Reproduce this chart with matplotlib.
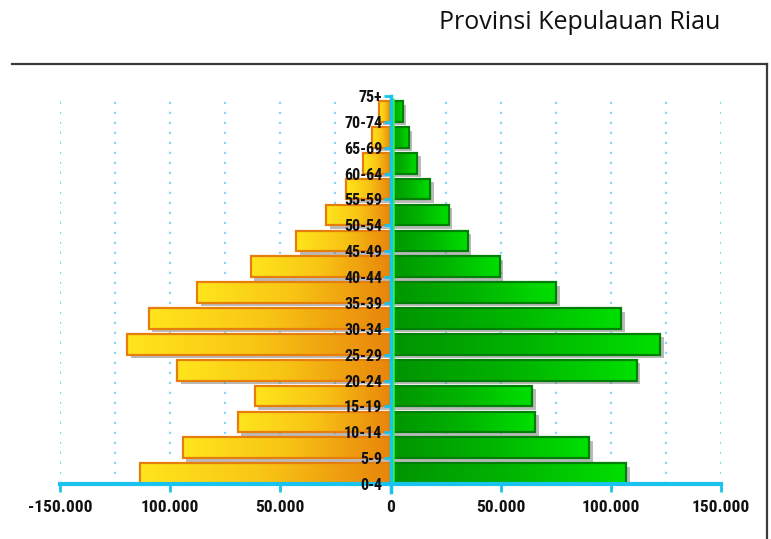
import numpy as np
import matplotlib
matplotlib.use('Agg')
import matplotlib.pyplot as plt
from matplotlib import patheffects as pe
from matplotlib.colors import LinearSegmentedColormap
from matplotlib.lines import Line2D
import matplotlib.transforms as mtransforms

# ---- data ----
age_labels = ['0-4', '5-9', '10-14', '15-19', '20-24', '25-29', '30-34', '35-39',
              '40-44', '45-49', '50-54', '55-59', '60-64', '65-69', '70-74', '75+']
left_values = [113500, 94400, 69400, 61700, 96700, 119400, 109800, 87600,
               63500, 42800, 29200, 20400, 12300, 8300, 5000]
right_values = [107100, 90300, 65800, 64400, 111700, 122500, 104800, 75300,
                49500, 35000, 26400, 18000, 12100, 8300, 5600]
x_ticks = [-150000, -100000, -50000, 0, 50000, 100000, 150000]
x_tick_labels = ['-150.000', '100.000', '50.000', '0', '50.000', '100.000', '150.000']
title = 'Provinsi Kepulauan Riau'

NARROW = ['Liberation Sans Narrow', 'Roboto Condensed', 'Archivo Narrow', 'DejaVu Sans']
plt.rcParams['font.family'] = NARROW

W, H = 771, 539
fig = plt.figure(figsize=(W / 100, H / 100), dpi=100)
ax = fig.add_axes([60 / W, (H - 484) / H, 661 / W, 388 / H])

AXIS_BLUE = '#19C3EE'
n = len(left_values)
pos = np.arange(n) + 0.4
bar_h = 0.8

shadow = [pe.SimplePatchShadow(offset=(2.5, -2.5), shadow_rgbFace='#777777', alpha=0.5), pe.Normal()]

lbars = ax.barh(pos, [-v for v in left_values], height=bar_h, color='#F0A810',
                edgecolor='none', zorder=2)
rbars = ax.barh(pos, right_values, height=bar_h, color='#00B800',
                edgecolor='none', zorder=2)
for b in list(lbars) + list(rbars):
    b.set_path_effects(shadow)

orange_cmap = LinearSegmentedColormap.from_list('o', ['#FFE51C', '#F8C414', '#E8850B'])
green_cmap = LinearSegmentedColormap.from_list('g', ['#009400', '#00B400', '#00E000'])
grad = np.linspace(0, 1, 256)[None, :]

for bars, cmap in ((lbars, orange_cmap), (rbars, green_cmap)):
    for b in bars:
        bb = b.get_bbox()
        x0, x1 = sorted([bb.x0, bb.x1])
        y0, y1 = sorted([bb.y0, bb.y1])
        im = ax.imshow(grad, cmap=cmap, extent=[x0, x1, y0, y1], aspect='auto',
                       interpolation='bilinear', zorder=2.1)
        im.set_clip_path(b)

ax.barh(pos, [-v for v in left_values], height=bar_h, facecolor='none',
        edgecolor='#E57E0C', linewidth=1.6, zorder=2.2)
ax.barh(pos, right_values, height=bar_h, facecolor='none',
        edgecolor='#017F06', linewidth=1.6, zorder=2.2)

# bright green line along the inner edge of the green bars
trans = mtransforms.offset_copy(ax.get_xaxis_transform(), fig=fig, x=2.0, y=0, units='dots')
ax.plot([0, 0], [0, 0.995], transform=trans, color='#2EFF2E', lw=1.8, zorder=2.3,
        solid_capstyle='butt')

ax.set_xlim(-150000, 150000)
ax.set_ylim(0, 15)

# spines
for s in ('top', 'right'):
    ax.spines[s].set_visible(False)
ax.spines['left'].set_position(('data', 0))
ax.spines['left'].set_color(AXIS_BLUE)
ax.spines['left'].set_linewidth(2.5)
ax.spines['left'].set_bounds(-0.3, 15)
ax.spines['bottom'].set_color(AXIS_BLUE)
ax.spines['bottom'].set_linewidth(3)
ax.spines['left'].set_zorder(3)
ax.spines['bottom'].set_zorder(3)

# ticks
ax.set_xticks(x_ticks, x_tick_labels)
ax.set_xticks(np.arange(-150000, 150001, 25000), minor=True)
ax.tick_params(axis='x', which='major', direction='out', length=6, width=2,
               color=AXIS_BLUE, pad=5.5, labelsize=12.5)
ax.tick_params(axis='x', which='minor', length=0)
ax.set_yticks(range(len(age_labels)), age_labels)
ax.tick_params(axis='y', direction='out', length=5, width=2, color=AXIS_BLUE,
               pad=1, labelsize=11.5)
for lbl in ax.get_xticklabels() + ax.get_yticklabels():
    lbl.set_fontweight('bold')
    lbl.set_color('#111111')

ax.grid(True, axis='x', which='both', color='#86D8F4', linestyle=(0, (1.0, 3.5)),
        linewidth=1.6)
ax.set_axisbelow(True)
ax.yaxis.set_zorder(5)
ax.patch.set_alpha(0)

# frame lines
fig.add_artist(Line2D([12 / W, 767 / W], [1 - 64 / H, 1 - 64 / H], color='#3A3A3A', lw=1.6))
fig.add_artist(Line2D([767 / W, 767 / W], [1 - 64 / H, 0], color='#3A3A3A', lw=1.6))

fig.text(720 / W, 1 - 29 / H, title, ha='right', va='baseline', fontsize=18,
         family=['Open Sans', 'DejaVu Sans'], color='#111111')

fig.savefig('out.png', dpi=100)
